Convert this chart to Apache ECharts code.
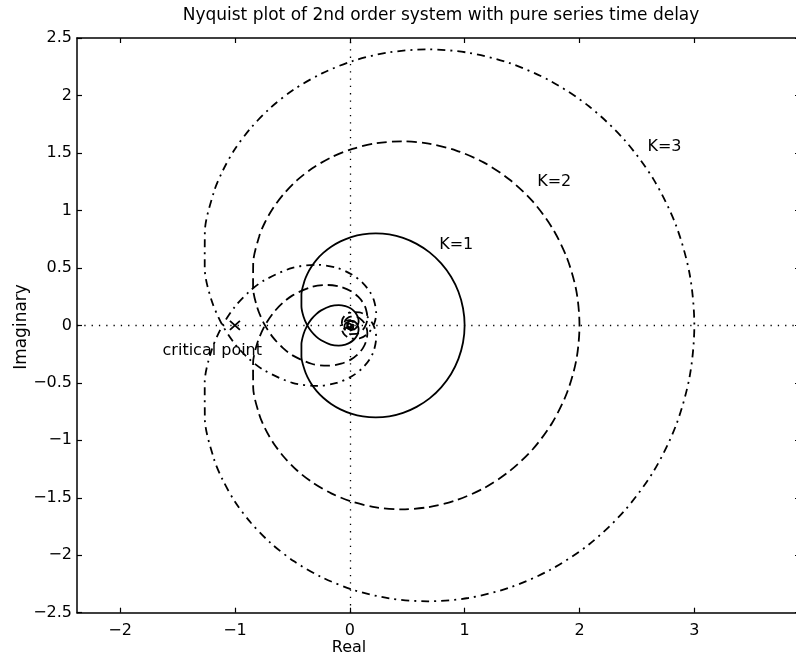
<!DOCTYPE html>
<html>
<head>
<meta charset="utf-8">
<script src="https://cdn.jsdelivr.net/npm/echarts@6/dist/echarts.min.js"></script>
<style>
html,body{margin:0;padding:0;background:#fff;}
#chart{width:796px;height:660px;}
</style>
</head>
<body>
<div id="chart"></div>
<script>
// Positive-frequency branch of each Nyquist curve
const k1Re = [1.000,0.986,0.946,0.882,0.796,0.695,0.582,0.464,0.344,0.226,0.114,0.012,-0.081,-0.162,-0.231,-0.288,-0.334,-0.369,-0.394,-0.421,-0.421,-0.403,-0.372,-0.334,-0.292,-0.249,-0.167,-0.096,-0.038,0.006,0.037,0.058,0.071,0.077,0.071,0.055,0.028,0.004,-0.013,-0.022,-0.023,-0.018,-0.002,0.010,0.009];
const k1Im = [0.000,-0.149,-0.292,-0.423,-0.539,-0.635,-0.709,-0.761,-0.791,-0.800,-0.792,-0.768,-0.731,-0.684,-0.630,-0.572,-0.510,-0.448,-0.387,-0.270,-0.166,-0.077,-0.004,0.054,0.098,0.130,0.167,0.176,0.167,0.148,0.123,0.097,0.071,0.035,0.006,-0.021,-0.038,-0.038,-0.029,-0.016,-0.002,0.008,0.015,0.007,-0.004];

const k2Re = [2.000,1.973,1.892,1.763,1.593,1.390,1.165,0.927,0.688,0.451,0.229,0.023,-0.161,-0.323,-0.461,-0.575,-0.667,-0.738,-0.789,-0.841,-0.842,-0.805,-0.743,-0.667,-0.583,-0.498,-0.333,-0.191,-0.076,0.012,0.075,0.117,0.141,0.153,0.143,0.110,0.057,0.008,-0.027,-0.044,-0.046,-0.036,-0.003,0.019,0.018];
const k2Im = [0.000,-0.298,-0.584,-0.847,-1.078,-1.269,-1.418,-1.521,-1.581,-1.601,-1.584,-1.535,-1.462,-1.368,-1.261,-1.143,-1.021,-0.897,-0.774,-0.540,-0.332,-0.154,-0.008,0.107,0.196,0.261,0.334,0.351,0.334,0.296,0.247,0.194,0.141,0.070,0.012,-0.042,-0.075,-0.076,-0.058,-0.031,-0.004,0.017,0.031,0.015,-0.007];

const k3Re = [3.000,2.959,2.838,2.645,2.389,2.085,1.747,1.391,1.032,0.677,0.343,0.035,-0.242,-0.485,-0.692,-0.863,-1.001,-1.106,-1.183,-1.262,-1.263,-1.208,-1.115,-1.001,-0.875,-0.746,-0.500,-0.287,-0.114,0.018,0.112,0.176,0.212,0.230,0.214,0.165,0.085,0.012,-0.040,-0.066,-0.069,-0.055,-0.005,0.029,0.028];
const k3Im = [0.000,-0.447,-0.876,-1.270,-1.616,-1.904,-2.126,-2.282,-2.372,-2.401,-2.375,-2.303,-2.192,-2.053,-1.891,-1.715,-1.532,-1.345,-1.161,-0.811,-0.498,-0.231,-0.013,0.161,0.294,0.391,0.500,0.527,0.501,0.443,0.370,0.290,0.212,0.104,0.018,-0.064,-0.113,-0.115,-0.087,-0.047,-0.006,0.025,0.046,0.022,-0.011];

const criticalPoint = [[-1, 0]];
const xTicks = [-2, -1, 0, 1, 2, 3];
const xRange = [-2.375, 3.92];
const yRange = [-2.5, 2.5];

const curveLabels = [
  {name: 'K=1', value: [0.927, 0.70]},
  {name: 'K=2', value: [1.78, 1.25]},
  {name: 'K=3', value: [2.74, 1.55]},
  {name: 'critical point', value: [-1.197, -0.222]}
];

const titleText = 'Nyquist plot of 2nd order system with pure series time delay';

// Both frequency branches: negative-frequency branch is the conjugate
function fullPath(re, im) {
  const pts = [];
  for (let i = re.length - 1; i >= 1; i--) pts.push([re[i], -im[i]]);
  for (let i = 0; i < re.length; i++) pts.push([re[i], im[i]]);
  return pts;
}

const FONT = 'DejaVu Sans';
const fmt = v => (v < 0 ? '\u2212' + Math.abs(v) : String(v));

const chart = echarts.init(document.getElementById('chart'), null, {renderer: 'canvas'});

const baseX = {
  type: 'value', min: xRange[0], max: xRange[1],
  splitLine: {show: false},
  axisLine: {show: true, onZero: false, lineStyle: {color: '#000', width: 1.5}},
  axisTick: {show: true, inside: true, length: 5, customValues: xTicks, lineStyle: {color: '#000', width: 1.2}},
};
const baseY = {
  type: 'value', min: yRange[0], max: yRange[1], interval: 0.5,
  splitLine: {show: false},
  axisLine: {show: true, onZero: false, lineStyle: {color: '#000', width: 1.5}},
  axisTick: {show: true, inside: true, length: 5, lineStyle: {color: '#000', width: 1.2}},
};

const lineCommon = {
  type: 'line', showSymbol: false, symbol: 'none', smooth: 0.3,
  animation: false, z: 3
};

chart.setOption({
  animation: false,
  backgroundColor: '#fff',
  textStyle: {fontFamily: FONT},
  grid: {left: 77, top: 38, width: 723, height: 574.7, containLabel: false, outerBoundsMode: 'none'},
  xAxis: [
    Object.assign({}, baseX, {
      position: 'bottom',
      axisLabel: {show: true, customValues: xTicks, formatter: fmt, margin: 10, color: '#000', fontSize: 16, fontFamily: FONT}
    }),
    Object.assign({}, baseX, {position: 'top', axisLabel: {show: false}})
  ],
  yAxis: [
    Object.assign({}, baseY, {
      position: 'left',
      axisLabel: {show: true, formatter: fmt, margin: 5, color: '#000', fontSize: 16, fontFamily: FONT}
    }),
    Object.assign({}, baseY, {position: 'right', axisLabel: {show: false}})
  ],
  graphic: [
    {type: 'text', x: 441, y: 16, style: {text: titleText, fontSize: 17, fontFamily: FONT, fill: '#000', align: 'center', verticalAlign: 'middle'}},
    {type: 'text', x: 349, y: 648, style: {text: 'Real', fontSize: 16, fontFamily: FONT, fill: '#000', align: 'center', verticalAlign: 'middle'}},
    {type: 'text', x: 22, y: 327, rotation: Math.PI / 2, style: {text: 'Imaginary', fontSize: 17, fontFamily: FONT, fill: '#000', align: 'center', verticalAlign: 'middle'}}
  ],
  series: [
    Object.assign({}, lineCommon, {
      name: 'K=1', data: fullPath(k1Re, k1Im),
      lineStyle: {color: '#000', width: 1.8, type: 'solid'},
      markLine: {
        silent: true, symbol: ['none', 'none'], animation: false,
        label: {show: false},
        lineStyle: {color: '#000', width: 1.3, type: [1.3, 6]},
        data: [{xAxis: 0}, {yAxis: 0}]
      }
    }),
    Object.assign({}, lineCommon, {
      name: 'K=2', data: fullPath(k2Re, k2Im),
      lineStyle: {color: '#000', width: 1.8, type: [10, 5]}
    }),
    Object.assign({}, lineCommon, {
      name: 'K=3', data: fullPath(k3Re, k3Im),
      lineStyle: {color: '#000', width: 1.8, type: [8, 5, 2, 5]}
    }),
    {
      type: 'scatter', name: 'critical', data: criticalPoint,
      symbol: 'path://M0,0L10,10M10,0L0,10', symbolSize: [10, 9],
      itemStyle: {color: 'rgba(0,0,0,0)', borderColor: '#000', borderWidth: 1.7, opacity: 1},
      z: 4, animation: false
    },
    {
      type: 'scatter', name: 'labels', data: curveLabels,
      symbol: 'circle', symbolSize: 0,
      itemStyle: {opacity: 1},
      label: {show: true, position: 'inside', formatter: p => p.name, color: '#000', opacity: 1, textBorderWidth: 0, fontSize: 16, fontFamily: FONT},
      z: 5, animation: false, silent: true
    }
  ]
});
</script>
</body>
</html>
